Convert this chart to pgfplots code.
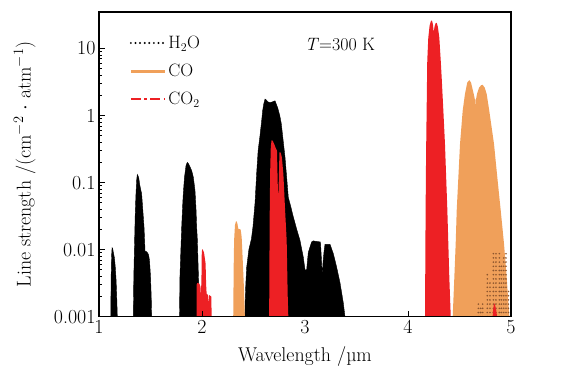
\documentclass[border=0pt]{standalone}
\usepackage{fontspec}
\usepackage{pgfplots}
\pgfplotsset{compat=1.18}
\definecolor{co2red}{RGB}{237,32,36}
\definecolor{coorange}{RGB}{240,160,90}
\definecolor{mixbrown}{RGB}{140,85,45}

\begin{document}
\begin{tikzpicture}
\begin{axis}[
  scale only axis, width=412bp, height=304.7bp,
  xmin=1, xmax=5, ymin=0.001, ymax=35,
  ymode=log,
  axis on top,
  axis line style={line width=1.5bp},
  tick style={line width=0.8bp, black},
  tick align=inside, tick pos=left,
  major tick length=6bp, minor tick length=3.5bp,
  xtick={1,2,3,4,5}, xticklabels={1,2,3,4,5},
  ytick={0.001,0.01,0.1,1,10}, yticklabels={0.001,0.01,0.1,1,10},
  ticklabel style={font=\fontsize{20}{24}\selectfont},
  label style={font=\fontsize{20}{24}\selectfont},
  xlabel={Wavelength /µm},
  ylabel={Line strength /(cm$^{-2}$ $\cdot$ atm$^{-1}$)},
  xlabel style={at={(axis description cs:0.5,0)}, anchor=center, yshift=-40bp},
  ylabel style={at={(axis description cs:-0.18,0.5)}, anchor=center},
  legend style={draw=none, fill=none, at={(axis description cs:0.066,0.935)},
    anchor=north west, font=\fontsize{18}{21}\selectfont, row sep=10bp},
  legend cell align=left,
  legend image code/.code={\draw[#1] (0bp,0bp) -- (34bp,0bp);},
  unbounded coords=jump,
]
% legend samples
\addlegendimage{black, line width=2.2bp, line cap=round, dash pattern=on 0pt off 4.6bp}
\addlegendentry{H$_2$O}
\addlegendimage{coorange, line width=3bp}
\addlegendentry{CO}
\addlegendimage{co2red, line width=2.4bp, dash pattern=on 10bp off 3.5bp on 2.5bp off 3.5bp}
\addlegendentry{CO$_2$}

% H2O band envelopes
\addplot[fill=black, draw=black, line width=0.4bp, forget plot] coordinates {
 (1.112,0.0009) (1.114,0.001) (1.118,0.004) (1.122,0.008) (1.127,0.0107)
 (1.132,0.0105) (1.14,0.0090) (1.15,0.0075) (1.158,0.0055) (1.166,0.0035)
 (1.172,0.002) (1.178,0.001) (1.179,0.0009)};
\addplot[fill=black, draw=black, line width=0.4bp, forget plot] coordinates {
 (1.332,0.0009) (1.333,0.001) (1.338,0.004) (1.345,0.012) (1.352,0.035)
 (1.359,0.068) (1.366,0.11) (1.372,0.132) (1.385,0.12) (1.397,0.09)
 (1.414,0.068) (1.437,0.022) (1.447,0.0095) (1.463,0.0093) (1.48,0.0085)
 (1.49,0.007) (1.5,0.004) (1.507,0.002) (1.511,0.001) (1.512,0.0009)};
\addplot[fill=black, draw=black, line width=0.4bp, forget plot] coordinates {
 (1.779,0.0009) (1.781,0.001) (1.786,0.004) (1.795,0.01) (1.803,0.022)
 (1.812,0.045) (1.818,0.067) (1.83,0.12) (1.845,0.18) (1.857,0.20)
 (1.87,0.19) (1.885,0.17) (1.90,0.15) (1.916,0.12) (1.932,0.076)
 (1.942,0.04) (1.948,0.022) (1.955,0.014) (1.962,0.006) (1.968,0.003)
 (1.978,0.001) (1.98,0.0009)};
\addplot[fill=black, draw=black, line width=0.4bp, forget plot] coordinates {
 (2.416,0.0009) (2.418,0.0015) (2.425,0.003) (2.434,0.0055) (2.455,0.01)
 (2.48,0.0145) (2.495,0.022) (2.515,0.05) (2.531,0.14) (2.545,0.3)
 (2.563,0.5) (2.578,0.8) (2.589,1.18) (2.60,1.5) (2.612,1.76)
 (2.625,1.7) (2.64,1.6) (2.66,1.56) (2.685,1.6) (2.709,1.66)
 (2.735,1.3) (2.755,1.0) (2.77,0.75) (2.806,0.238) (2.838,0.06)
 (2.86,0.045) (2.886,0.031) (2.92,0.02) (2.951,0.0138) (2.983,0.0078)
 (3.0,0.005) (3.016,0.005) (3.032,0.0091) (3.064,0.013) (3.08,0.0135)
 (3.15,0.013) (3.16,0.007) (3.167,0.004) (3.175,0.0065) (3.184,0.0091)
 (3.194,0.012) (3.243,0.012) (3.275,0.0087) (3.307,0.0055) (3.34,0.0032)
 (3.372,0.0016) (3.388,0.001) (3.39,0.0009)};

% CO bands
\addplot[fill=coorange, draw=none, forget plot] coordinates {
 (2.303,0.0009) (2.305,0.002) (2.308,0.006) (2.312,0.014) (2.32,0.023)
 (2.328,0.026) (2.337,0.0265) (2.345,0.024) (2.352,0.0205) (2.375,0.020)
 (2.385,0.0155) (2.394,0.0078) (2.408,0.0025) (2.416,0.001) (2.417,0.0009)};
\addplot[fill=coorange, draw=none, forget plot] coordinates {
 (4.433,0.0009) (4.434,0.001) (4.45,0.0039) (4.463,0.0123) (4.473,0.0387)
 (4.489,0.12) (4.505,0.377) (4.531,1.18) (4.553,2.09) (4.575,3.1)
 (4.595,3.37) (4.612,3.1) (4.632,2.3) (4.648,1.78) (4.655,1.7)
 (4.657,0.7) (4.659,1.7) (4.67,2.1) (4.69,2.6) (4.71,2.83)
 (4.725,2.87) (4.745,2.6) (4.764,2.09) (4.789,1.18) (4.835,0.377)
 (4.867,0.12) (4.90,0.0387) (4.932,0.0123) (4.958,0.0039) (4.984,0.001)
 (4.985,0.0009)};

% CO2 bands
\addplot[fill=co2red, draw=none, forget plot] coordinates {
 (1.947,0.0009) (1.948,0.003) (1.955,0.0032) (1.975,0.0031) (1.985,0.0028)
 (1.99,0.002) (1.995,0.004) (1.998,0.0095) (2.005,0.0102) (2.02,0.009)
 (2.035,0.0062) (2.04,0.003) (2.045,0.0022) (2.06,0.0021) (2.065,0.0015)
 (2.07,0.0021) (2.09,0.002) (2.094,0.001) (2.095,0.0009)};
\addplot[fill=co2red, draw=none, forget plot] coordinates {
 (2.652,0.0009) (2.653,0.002) (2.657,0.03) (2.662,0.15) (2.668,0.35)
 (2.676,0.43) (2.686,0.42) (2.70,0.38) (2.715,0.33) (2.728,0.30)
 (2.735,0.10) (2.74,0.054) (2.745,0.10) (2.752,0.283) (2.764,0.28)
 (2.775,0.24) (2.79,0.135) (2.806,0.041) (2.822,0.0138) (2.832,0.0021)
 (2.838,0.001) (2.84,0.0009)};
\addplot[fill=co2red, draw=none, forget plot] coordinates {
 (4.164,0.0009) (4.165,0.001) (4.168,0.006) (4.171,0.0387) (4.176,0.3)
 (4.181,1.18) (4.187,6.5) (4.197,14.5) (4.21,22) (4.222,25.5)
 (4.232,26.2) (4.242,23) (4.25,17.2) (4.257,21) (4.268,23.8)
 (4.279,24.1) (4.29,21) (4.304,14.5) (4.318,6.5) (4.327,3.68)
 (4.343,1.2) (4.359,0.377) (4.382,0.0387) (4.401,0.0039) (4.415,0.001)
 (4.416,0.0009)};

% weak H2O lines inside the CO band
\addplot[mixbrown, line width=1.8bp, line cap=round, dash pattern=on 0pt off 4.2bp, forget plot] coordinates {
 (4.683,0.001) (4.683,0.0016) (4.683,nan)
 (4.705,0.001) (4.705,0.0014) (4.705,nan)
 (4.725,0.001) (4.725,0.0017) (4.725,nan)
 (4.77,0.001) (4.77,0.0044) (4.77,nan)
 (4.796,0.001) (4.796,0.0035) (4.796,nan)
 (4.829,0.001) (4.829,0.0091) (4.829,nan)
 (4.854,0.001) (4.854,0.0088) (4.854,nan)
 (4.887,0.001) (4.887,0.0088) (4.887,nan)
 (4.907,0.001) (4.907,0.006) (4.907,nan)
 (4.93,0.001) (4.93,0.0085) (4.93,nan)
 (4.951,0.001) (4.951,0.0095) (4.951,nan)
 (4.975,0.001) (4.975,0.0025)};
\addplot[fill=co2red, draw=none, forget plot] coordinates {
 (4.82,0.0009) (4.825,0.0012) (4.835,0.0016) (4.845,0.0015)
 (4.855,0.0013) (4.865,0.001) (4.87,0.0009)};

\node[font=\fontsize{18}{21}\selectfont] at (axis cs:3.34,11.3) {\textit{T}=300 K};
\end{axis}
\pgfresetboundingbox
\useasboundingbox (-99bp,-56.3bp) rectangle (474bp,316.7bp);
\end{tikzpicture}
\end{document}
